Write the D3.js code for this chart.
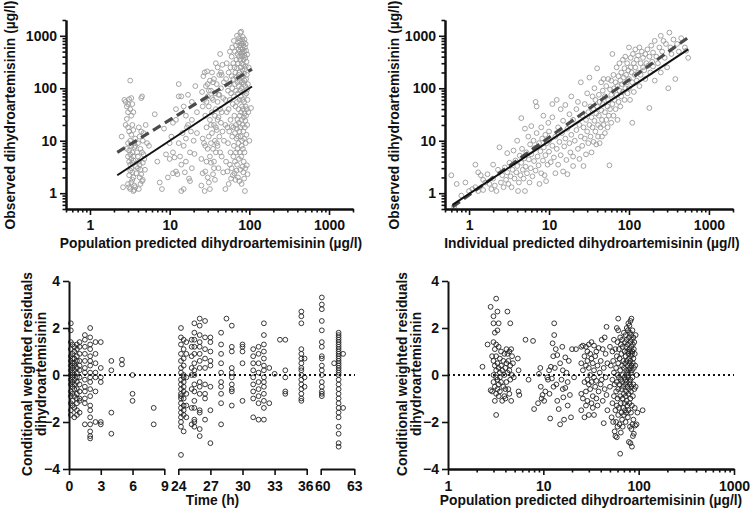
<!DOCTYPE html>
<html><head><meta charset="utf-8">
<script src="https://cdn.jsdelivr.net/npm/d3@7"></script>
<style>
body{margin:0;background:#fff}
svg text{font-family:"Liberation Sans",Arial,sans-serif;font-weight:bold;fill:#111}
</style>
</head><body><svg id="chart" width="750" height="511"></svg>
<script>
// ---------- DATA ----------
// Panel A: population predicted (PRED) vs observed (DV), µg/l
const predObs = [
[2.5,12],[2.6,1.3],[2.7,60],[2.8,55],[2.9,45],[3.0,50],[3.0,35],[3.1,62],[3.2,140],[3.2,40],[3.3,65],[3.3,30],[3.4,50],[3.5,35],[3.0,18],[3.1,15],[3.2,10],[3.3,8],[3.4,6],[3.5,5],[3.0,5],[3.1,4],[3.2,3.5],[3.3,3],[3.4,2.5],[3.5,2],[3.0,1.5],[3.1,1.3],[3.2,1.2],[3.3,1.6],[3.4,1.8],[3.5,1.1],[3.6,1.15],[3.7,1.3],[2.9,7],[3.0,9],[3.1,6.5],[3.2,5.5],[3.3,4.5],[3.4,3.8],[3.5,4.2],[3.6,7.5],[3.7,11],[3.8,3.2],[3.1,2.2],[3.2,2.7],[3.3,13],[3.4,20],[3.5,16],[3.6,9],[3.7,8],[3.9,6],[4.0,5],[4.1,4],[4.2,3.5],[4.3,2.8],[4.4,2.3],[4.5,1.7],[4.1,1.2],[4.3,1.5],[4.0,9],[4.2,12],[4.4,15],[4.6,10],[4.1,18],[4.3,7],[4.5,6],[4.6,3.8],[4.7,5.5],[4.8,4.5],[4.0,3],[4.2,2],[4.4,65],[4.5,70],[3.8,2.4],[4.9,2.8],[5.0,20],[5.2,9],[4.7,14],[3.6,1.4],[4.6,1.8],[2.8,20],[2.9,26],
[5.5,8],[6.5,32],[7,4],[7.5,1.6],[8,1.2],[8.5,17],[9,5.5],[9.5,2],[10,4.5],[10.5,12],[11,2.4],[11,6],[11.5,4.8],[12,25],[12,2.6],[12.5,2.3],[13,120],[13,70],[13,9],[13.5,5],[14,70],[14,3.5],[14.5,14],[15,45],[15,8],[15.5,2.5],[15,1.2],[16,30],[16,11],[16.5,18],[17,75],[17,20],[17.5,1.9],[18,1.7],[18,6],[18.5,15],[19,55],[19,25],[20,10],[20.5,5.6],[21,110],[22,14],[22,35],[14,1.1],[12,40],[10,9],[11,22],[16,4],[19,3],
[25,4.5],[25,1.4],[25.5,85],[26,11],[26,2.4],[26.5,170],[27,60],[27,9],[27.5,200],[27.5,1.1],[28,30],[28,2.6],[28.5,110],[29,18],[29,4],[29.5,210],[30,70],[30,7],[30,2],[31,45],[31,12],[31,1.6],[32,140],[32,25],[32,5],[33,90],[33,9],[33,3.8],[34,200],[34,35],[34,14],[35,60],[35,7],[35,2.3],[36,150],[36,20],[36,4],[37,80],[37,10],[37,1.8],[38,300],[38,40],[38,6],[39,120],[39,16],[40,250],[40,55],[40,8],[41,28],[41,3],[42,180],[42,75],[42,12],[43,6],[43,450],[44,100],[44,22],[45,35],[45,5],[46,280],[46,15],[47,65],[47,2.5],[48,130],[48,10],[26,45],[29,55],[31,90],[33,20],[35,130],[37,30],[39,9],[41,75],[43,40],[45,180],[30,120],[34,65],[28,8],[32,1.2],[36,3],[38,18],[40,25],[44,200],
[50,1.2],[50,20],[50,60],[51,150],[51,4],[52,300],[52,35],[53,18],[53,2.6],[54,90],[54,9],[55,200],[55,40],[55,1.5],[56,120],[56,15],[57,500],[57,60],[57,3.5],[58,250],[58,25],[58,6],[59,80],[59,1.9],[60,400],[60,170],[60,19],[60,3],
[61,600],[61,100],[61,12],[62,50],[62,2.2],[63,300],[63,150],[63,18],[63,5],[64,800],[64,70],[64,8],[65,250],[65,30],[65,2.4],[66,500],[66,120],[66,14],[66,4],[67,200],[67,45],[67,1.8],[68,650],[68,90],[68,20],[68,6],[69,350],[69,160],[69,11],[69,2.7],[70,1000],[70,240],[70,55],[70,17],[70,3.5],[71,450],[71,130],[71,25],[71,7],[72,750],[72,300],[72,80],[72,12],[72,2],[73,550],[73,180],[73,40],[73,9],[74,900],[74,400],[74,110],[74,22],[74,4.5],[75,650],[75,200],[75,60],[75,15],[75,1.7],
[76,800],[76,500],[76,140],[76,30],[76,6],[77,1150],[77,350],[77,90],[77,18],[77,2.8],[78,600],[78,250],[78,70],[78,12],[79,1200],[79,450],[79,160],[79,35],[79,5],[80,700],[80,300],[80,100],[80,25],[80,8],[80,1.5],[81,850],[81,400],[81,130],[81,45],[81,10],[82,550],[82,220],[82,60],[82,20],[82,3.2],[83,950],[83,480],[83,170],[83,40],[83,7],[84,650],[84,280],[84,85],[84,15],[84,2.5],[85,750],[85,350],[85,120],[85,28],[85,4],[86,500],[86,190],[86,55],[86,11],[86,1.9],[87,850],[87,420],[87,140],[87,33],[87,6],[88,600],[88,230],[88,75],[88,18],[88,1.1],[89,380],[89,110],[89,24],[89,3],[90,700],[90,260],[90,45],[90,9],[91,520],[91,150],[91,30],[92,320],[92,80],[92,13],[93,180],[93,40],[93,3.4],[94,440],[94,95],[94,20],[95,60],[95,2.3],[96,120],[97,35],[98,250],[100,10],[105,42]
];
// Panel B: individual predicted (IPRED) vs observed (DV), µg/l
const ipredObs = [
[0.6,2.2],[0.65,0.55],[0.7,1.5],[0.8,0.9],[0.9,1.6],[1.0,1.1],[1.1,1.2],[1.2,3.5],[1.2,1.3],[1.3,2.5],[1.3,1.1],[1.4,2.2],[1.5,1.8],[1.5,1.15],[1.6,1.6],[1.7,2.3],[1.8,1.5],[1.9,1.2],[2.0,3.5],[2.0,1.9],[2.1,1.4],[2.2,1.1],[2.3,2.8],[2.4,7.5],[2.5,1.6],[2.6,2.2],[2.7,1.3],[2.8,3.1],[2.9,1.8],[3.0,2.5],[3.0,5.8],[3.1,1.5],[3.2,3.8],[3.3,2.1],[3.4,1.3],[3.5,2.8],[3.6,6.5],[3.7,1.9],[3.8,4.2],[3.9,2.5],[4.0,10],[4.0,3.3],[4.1,1.1],[4.2,1.6],[4.3,5.2],[4.4,2.2],[4.5,27],[4.5,3.8],[4.6,7],[4.7,2.8],[4.8,1.9],[4.9,4.6],[5.0,1.1],[5.0,17],[5.1,3.2],[5.2,6],[5.3,2.4],[5.5,12],[5.6,4.4],[5.7,1.6],[5.8,8.5],[5.9,3],[6.0,19],[6.0,5.5],[6.2,2.1],[6.4,10],[6.5,4.1],[6.6,7.2],[6.8,55],[6.8,2.7],[7.0,45],[7.0,14],[7.2,5],[7.4,3.4],[7.5,9],[7.6,1.5],[7.8,6.3],[8.0,18],[8.0,2.4],[8.2,11],[8.4,4.2],[8.5,30],[8.6,7.5],[8.8,2.2],[9.0,13],[9.0,5.3],[9.2,1.7],[9.4,9],[9.6,3.5],[9.8,22],[10,6.2],[10,15],[10,10],[10.5,3.9],[11,8],[11,50],[11,28],[11.5,4.8],[12,12],[12,2.4],[12.5,60],[12.5,7],[13,18],[13,3.5],[13.5,9.5],[14,40],[14,5.3],[14.5,14],[15,2.6],[15,24],[15.5,7.8],[16,11],[16,48],[16.5,4.3],[17,17],[17,2.3],[18,9],[18,32],[18.5,6],[19,70],[19,13],[20,5],[20,25],[20,3.3],[21,10],[22,40],[22,16],[23,7],[23,55],[24,20],[24,4.5],[25,12],[25,130],[26,30],[26,8],[27,18],[27,3.3],[28,50],[28,11],[29,25],[29,5.5],[30,80],[30,15],[31,35],[31,9],[32,160],[32,20],[33,45],[33,12],[34,6],[34,28],[35,70],[35,18],[36,40],[36,9.5],[37,100],[37,24],[38,15],[38,60],[39,33],[39,8.5],[40,240],[40,45],[41,20],[41,12],[42,75],[42,30],[43,9],[43,55],[44,18],[45,130],[45,38],[46,25],[46,12],[47,90],[47,50],[48,20],[48,150],[50,35],[50,70],[50,14],[52,110],[52,25],[54,45],[54,18],[55,150],[55,60],[56,30],[57,3.4],[58,95],[58,40],[60,140],[60,22],[60,75],[62,450],[62,50],[64,30],[64,180],[65,100],[66,60],[68,130],[68,40],[70,250],[70,75],[72,25],[72,110],[74,170],[74,55],[76,90],[76,300],[78,140],[78,45],[80,200],[80,70],[82,120],[84,350],[84,85],[86,160],[88,240],[88,60],[90,100],[90,400],[92,180],[94,130],[95,300],[96,80],[98,220],[100,600],[100,150],[100,100],[103,60],[105,250],[105,380],[108,200],[110,130],[110,22],[112,450],[115,300],[115,85],[118,180],[120,250],[120,550],[125,140],[125,350],[130,200],[130,420],[135,600],[135,110],[140,300],[140,180],[145,500],[150,250],[150,380],[155,220],[160,450],[160,150],[165,300],[170,550],[175,270],[180,42],[180,400],[185,200],[190,650],[195,320],[200,480],[200,260],[210,800],[210,140],[220,400],[230,300],[240,600],[250,200],[250,1000],[260,500],[270,800],[280,380],[290,700],[300,250],[310,100],[320,1150],[330,600],[340,450],[360,850],[380,150],[400,700],[420,500],[450,900],[500,600],[550,380],[520,520]
];
// Panel C: time after dose (h) and CWRES values observed at each time
const sampleTimes = [0.17,0.33,0.5,0.75,1,1.5,2,2.5,3,4,5,6,8,24.25,24.5,24.75,25.25,25.5,26,26.5,27,28,28.5,29,30,31,31.5,32,32.5,33,33.5,34,35.5,35.8,60.1,61.2,61.6,62];
const cwresAtTime = [
[2.2,1.9,1.4,1.1,0.8,0.6,0.4,0.2,0,-0.2,-0.4,-0.7,-0.9,-1.2,-1.5,-1.7],
[1.3,0.9,0.7,0.5,0.3,0.1,-0.1,-0.3,-0.5,-0.8,-1.1,-1.3],
[1.2,1.0,0.7,0.5,0.4,0.2,0,-0.2,-0.4,-0.6,-0.9,-1.4,-1.8],
[1.3,1.1,0.8,0.6,0.3,0.1,-0.1,-0.3,-0.6,-0.8,-1.0,-1.2,-1.5,-1.7],
[1.4,1.2,0.9,0.6,0.4,0.2,-0.1,-0.4,-0.7,-1.0,-1.1,-1.6],
[1.7,1.5,1.2,0.9,0.6,0.3,0.1,-0.2,-0.5,-0.7,-1.0,-1.2,-2.1],
[2.0,1.6,1.3,1.1,0.8,0.6,0.4,0.1,-0.1,-0.3,-0.6,-0.9,-1.3,-1.5,-1.8,-2.1,-2.4,-2.6,-2.7],
[1.4,0.9,0.5,0.1,-0.1,-0.7,-2.0],
[1.4,0.3,-0.1,-0.3,-2.0,-2.1],
[0.6,0.2,-1.6,-2.5],
[0.65,0.45],
[0,-0.8,-1.1],
[-1.4,-2.1],
[2.0,1.6,1.3,0.9,0.6,0.3,0.1,-0.2,-0.4,-0.6,-0.8,-1.0,-1.2,-1.4,-1.6,-1.8,-2.0,-2.2,-3.4,-0.9],
[1.5,1.1,0.7,0.4,0,-0.3,-0.5,-0.7,-1.0,-1.3,-1.5,-1.7,-2.4,-0.1],
[1.4,0.9,-0.1,-0.8,-1.3,-1.8],
[1.5,1.2,0.8,0.3,0,-0.6,-1.4,-2.1],
[2.2,1.8,1.5,1.2,0.9,0.5,0.2,0,-0.4,-0.7,-1.1,-1.4,-1.9,-2.2,-2.0],
[2.4,2.1,1.7,1.4,1.2,0.9,0.6,0.3,-0.3,-0.5,-0.8,-1.5,-1.6,-2.6,-2.3],
[2.3,1.6,1.1,0.7,0.3,-0.4,-0.8,-1.0,-1.9],
[1.6,1.4,1.0,0.6,0.4,-0.5,-1.5,-2.9],
[1.8,1.3,0.9,0.5,0.1,-0.3,-0.5,-0.8,-1.2,-2.1],
[2.4],
[2.1,1.2,1.0,0.3,0.1,-0.1,-0.4,-0.6,-0.7,-1.3],
[1.3,1.2,1.0,0.5,-1.1],
[1.1,0.8,0.5,0.2,-0.1,-0.4,-0.7,-1.0,-1.8],
[1.2,0.9,0.5,0.1,-0.3,-0.6,-0.9,-1.2,-1.9],
[2.2,1.7,1.3,1.0,0.7,0.4,0.2,-0.1,-0.3,-0.5,-0.8,-1.1,-1.4,-1.9],
[0.3,-1.2],
[0.05],
[1.5],
[1.5,0.2,-0.1,-0.7,-0.8],
[2.7,2.5,2.2,1.1,0.9,0.7,0.5,0.3,0.2,0,-0.2,-0.4,-0.6,-0.8,-1.0,-1.1],
[0.7,-0.1,-0.5],
[3.3,3.0,2.8,2.3,1.9,1.4,1.2,0.8,0.7,0.4,0.2,0,-0.3,-0.5,-0.7,-0.8,-0.9],
[0.5],
[1.8,1.7,1.6,1.5,1.4,1.3,1.2,1.1,1.0,0.9,0.8,0.7,0.6,0.5,0.4,0.3,0.2,0.1,0,-0.2,-0.4,-0.6,-0.8,-1.0,-1.2,-1.4,-1.6,-1.8,-2.2,-2.5,-2.9,-3.05],
[0.9,-1.4]
];
// Panel D: population predicted (PRED) vs CWRES
const predCwres = [
[2.3,0.35],[2.6,1.3],[2.8,2.9],[2.8,-0.65],[2.9,0.8],[2.9,-0.7],[3.0,2.5],[3.0,2.2],[3.0,1.4],[3.0,0.6],[3.0,0.0],[3.0,-0.3],[3.1,1.8],[3.1,1.1],[3.1,0.4],[3.1,-0.5],[3.1,-1.1],[3.2,3.25],[3.2,1.3],[3.2,0.8],[3.2,0.2],[3.2,-0.1],[3.2,-0.8],[3.2,-1.7],[3.3,2.7],[3.3,1.9],[3.3,0.5],[3.3,-0.2],[3.3,-0.6],[3.4,2.2],[3.4,1.2],[3.4,0.3],[3.4,-0.4],[3.4,-0.9],[3.5,0.7],[3.5,0.1],[3.5,-0.7],[3.6,0.4],[3.6,-0.3],[3.7,0.2],[3.7,-1.1],[3.8,0.6],[3.8,-0.5],[3.9,0.0],[3.9,-0.9],[4.0,0.3],[4.0,-1.0],[4.1,1.1],[4.1,0.5],[4.1,-0.3],[4.2,2.7],[4.2,0.9],[4.2,0.1],[4.3,0.6],[4.3,-0.6],[4.4,1.0],[4.4,0.2],[4.4,-0.8],[4.5,2.2],[4.5,0.4],[4.5,-0.2],[4.6,1.1],[4.6,-1.1],[4.7,0.8],[4.7,0.0],[4.8,0.5],[4.9,-0.1],[5.4,0.7],[5.5,-0.7],[5.5,0.2],[5.6,-0.85],[3.6,1.0],[3.9,0.9],[4.0,-0.6],[3.5,-0.1],
[6.5,1.5],[7,-0.2],[7.8,1.45],[8,-1.45],[8.8,-1.2],[9,0.05],[9.3,0.3],[9.4,-0.5],[9.6,-1.0],[9.8,-0.85],[10.2,-1.1],[10.5,-0.7],[11,-0.1],[11.2,-0.2],[11.5,0.2],[11.6,-0.8],[11.8,-1.85],[12,0.35],[12.3,-0.15],[12.5,1.35],[12.7,0.8],[12.8,-0.5],[13,2.2],[13,1.7],[13.2,0.3],[13.5,1.1],[13.7,-0.4],[14,0.85],[14,-1.1],[14.5,-1.45],[15,0.5],[15,-2.1],[15.5,-0.2],[15.8,1.2],[16,-0.6],[16.2,-0.95],[16.5,-1.9],[17,0.75],[17.5,0.1],[18,-0.3],[18,-1.3],[18.5,0.6],[19,-0.85],[19.5,-1.8],[20,1.1],[21,-0.1],[22,1.1],[17,-0.55],[16,0.2],
[25,1.2],[25,0.5],[25,-0.8],[25,-1.5],[26,1.25],[26,0.2],[26,-1.0],[27,0.8],[27,-0.3],[27,-1.8],[28,1.2],[28,0.4],[28,-0.7],[28,-1.3],[29,1.0],[29,0.6],[29,-0.2],[29,-1.1],[30,1.3],[30,0.3],[30,-0.4],[30,-1.7],[31,0.9],[31,0.0],[31,-0.6],[32,1.4],[32,0.7],[32,-0.3],[32,-1.2],[33,0.5],[33,-0.9],[33,-1.4],[34,1.25],[34,0.2],[34,-0.1],[34,-1.7],[35,0.8],[35,-0.5],[36,1.0],[36,-0.25],[36,-1.0],[37,0.4],[37,-1.3],[38,1.15],[38,-0.7],[39,0.1],[40,0.6],[40,-0.4],[41,1.5],[41,-0.2],[42,1.1],[42,-1.1],[43,0.3],[43,-2.05],[44,1.6],[44,-0.6],[45,0.9],[45,-0.1],[46,2.05],[46,-0.85],[47,0.5],[47,-1.5],
[50,1.2],[50,-0.5],[51,0.4],[52,-1.8],[53,1.0],[53,-0.2],[53,-1.2],[54,0.6],[54,-2.0],[55,1.5],[55,0.1],[55,-0.9],[56,-0.4],[56,-2.4],[57,1.1],[57,-1.5],[57,-2.6],[58,0.3],[58,-0.7],[58,-2.0],[59,2.0],[59,0.8],[59,-0.3],[59,-1.3],[59,-2.65],[60,1.4],[60,0.0],[60,-1.0],[60,-2.2],[61,2.4],[61,1.9],[61,0.5],[61,-0.6],[61,-1.7],[62,1.1],[62,-0.1],[62,-1.4],[63,0.7],[63,-0.4],[63,-2.1],[64,1.6],[64,0.2],[64,-0.9],[64,-3.35],[65,1.3],[65,-0.2],[65,-1.2],[65,-2.45],[66,0.9],[66,-0.6],[66,-1.6],[67,1.5],[67,0.4],[67,-0.3],[67,-1.9],[68,1.2],[68,0.0],[68,-1.0],[68,-2.2],[69,0.6],[69,-0.5],[69,-1.4],[70,1.8],[70,0.3],[70,-0.8],[70,-1.7],[71,1.0],[71,-0.1],[71,-1.2],[72,1.4],[72,0.5],[72,-0.4],[72,-1.5],[73,1.7],[73,0.8],[73,-0.2],[73,-0.9],[73,-2.0],[74,1.2],[74,0.2],[74,-0.7],[74,-1.6],[75,2.0],[75,1.5],[75,0.6],[75,-0.3],[75,-1.1],[76,1.0],[76,0.1],[76,-0.5],[76,-1.3],[77,1.9],[77,1.3],[77,0.4],[77,-0.1],[77,-1.8],[78,2.2],[78,0.9],[78,0.0],[78,-0.8],[78,-1.5],[79,1.6],[79,0.7],[79,0.2],[79,-0.6],[79,-2.85],[80,2.1],[80,1.1],[80,0.5],[80,-0.3],[80,-1.2],[81,1.8],[81,1.0],[81,0.3],[81,-0.4],[81,-2.2],[82,2.3],[82,1.4],[82,0.6],[82,-0.2],[82,-1.0],[82,-2.9],[83,1.7],[83,0.8],[83,0.1],[83,-0.7],[83,-1.6],[84,2.4],[84,1.2],[84,0.4],[84,-0.5],[84,-2.3],[85,1.5],[85,0.9],[85,0.2],[85,-1.3],[85,-3.05],[86,1.9],[86,1.0],[86,-0.1],[86,-2.1],[87,1.3],[87,0.5],[87,-0.9],[87,-2.6],[88,1.6],[88,0.7],[88,-0.4],[88,-1.9],[89,1.1],[89,0.3],[89,-2.5],[90,1.4],[90,-0.6],[91,0.9],[91,-1.4],[92,0.4],[92,-2.15],[93,1.7],[93,-0.5],[95,0.0],[95,-2.1],[110,-1.5],[97,-1.6]
];
// Reference lines: identity (solid) and regression (dashed), [x, y] endpoints
const identityA = [[2.2,2.2],[108,108]];
const regressionA = [[2.2,6.0],[108,232]];
const identityB = [[0.62,0.6],[550,550]];
const regressionB = [[0.62,0.55],[550,930]];
// Axis ticks / labels
const logMajor = [1,10,100,1000];
const logMinorWide = [0.5,0.6,0.7,0.8,0.9,2,3,4,5,6,7,8,9,20,30,40,50,60,70,80,90,200,300,400,500,600,700,800,900,2000];
const logMinorNarrow = [2,3,4,5,6,7,8,9,20,30,40,50,60,70,80,90,200,300,400,500,600,700,800,900];
const cwresTicks = [-4,-2,0,2,4];
const timeSegments = [[0,9],[24,36],[60,63]];
const timeTicks = [[0,3,6,9],[24,27,30,33,36],[60,63]];
const yTitleObs = "Observed dihydroartemisinin (µg/l)";
const xTitleA = "Population predicted dihydroartemisinin (µg/l)";
const xTitleB = "Individual predicted dihydroartemisinin (µg/l)";
const xTitleC = "Time (h)";
const yTitleRes = ["Conditional weighted residuals","dihydroartemisinin"];

// ---------- DRAW ----------
const svg = d3.select("#chart");
svg.append("rect").attr("width",750).attr("height",511).attr("fill","#fff");
const TICK_FS = 14, TITLE_FS = 13.8;

function styleAxis(g){
  g.selectAll("path.domain").attr("stroke","#111").attr("stroke-width",2);
  g.selectAll(".tick line").attr("stroke","#111").attr("stroke-width",1.6);
  g.selectAll(".tick text").attr("font-size",TICK_FS).attr("fill","#111")
    .style("font-family","'Liberation Sans',Arial,sans-serif").style("font-weight","bold");
}
function topPanel(data, xr, ident, reg, xTitle, yTitleX, xTitleX){
  const x = d3.scaleLog().domain([0.5,2000]).range(xr);
  const y = d3.scaleLog().domain([0.5,2000]).range([209,20]);
  const g = svg.append("g");
  g.selectAll("circle").data(data).join("circle")
    .attr("cx",d=>x(d[0])).attr("cy",d=>y(d[1])).attr("r",2.4)
    .attr("fill","none").attr("stroke","#9a9a9a").attr("stroke-width",0.9);
  const line = d3.line().x(d=>x(d[0])).y(d=>y(d[1]));
  svg.append("path").attr("d",line(reg)).attr("stroke","#4a4a4a").attr("stroke-width",3.2)
    .attr("stroke-dasharray","9,5").attr("fill","none");
  svg.append("path").attr("d",line(ident)).attr("stroke","#111").attr("stroke-width",2).attr("fill","none");
  // y axis
  svg.append("g").attr("transform",`translate(${xr[0]},0)`)
    .call(d3.axisLeft(y).tickValues(logMinorWide).tickFormat("").tickSize(3.5).tickSizeOuter(0)).call(styleAxis);
  svg.append("g").attr("transform",`translate(${xr[0]},0)`)
    .call(d3.axisLeft(y).tickValues(logMajor).tickFormat(d3.format("d")).tickSize(6).tickPadding(3).tickSizeOuter(0)).call(styleAxis);
  // x axis
  svg.append("g").attr("transform",`translate(0,209)`)
    .call(d3.axisBottom(x).tickValues(logMinorWide).tickFormat("").tickSize(3.5).tickSizeOuter(0)).call(styleAxis);
  svg.append("g").attr("transform",`translate(0,209)`)
    .call(d3.axisBottom(x).tickValues(logMajor).tickFormat(d3.format("d")).tickSize(6).tickPadding(5).tickSizeOuter(0)).call(styleAxis);
  svg.append("text").attr("x",xTitleX).attr("y",248).attr("text-anchor","middle").attr("font-size",TITLE_FS).text(xTitle);
  svg.append("text").attr("transform",`translate(${yTitleX},115) rotate(-90)`).attr("text-anchor","middle")
    .attr("dominant-baseline","central").attr("font-size",TITLE_FS).text(yTitleObs);
}
topPanel(predObs,[66,353],identityA,regressionA,xTitleA,10,211);
topPanel(ipredObs,[445,733],identityB,regressionB,xTitleB,394,592);

// residual panels
const yRes = d3.scaleLinear().domain([-4,4]).range([469,281]);
function resYAxis(x0, tx1, tx2){
  svg.append("g").attr("transform",`translate(${x0},0)`)
    .call(d3.axisLeft(yRes).tickValues(cwresTicks).tickFormat(d3.format("d")).tickSize(6).tickPadding(3).tickSizeOuter(0)).call(styleAxis);
  svg.append("text").attr("transform",`translate(${tx1},374) rotate(-90)`).attr("text-anchor","middle")
    .attr("dominant-baseline","central").attr("font-size",TITLE_FS).text(yTitleRes[0]);
  svg.append("text").attr("transform",`translate(${tx2},374) rotate(-90)`).attr("text-anchor","middle")
    .attr("dominant-baseline","central").attr("font-size",TITLE_FS).text(yTitleRes[1]);
}
function zeroLine(x0,x1){
  svg.append("line").attr("x1",x0).attr("x2",x1).attr("y1",yRes(0)).attr("y2",yRes(0))
    .attr("stroke","#111").attr("stroke-width",2).attr("stroke-dasharray","2,3");
}

// Panel C
const segRanges = [[69,164.3],[178.3,306.7],[320.7,354.3]];
const segScales = timeSegments.map((d,i)=>d3.scaleLinear().domain(d).range(segRanges[i]));
function xTime(t){ const i = timeSegments.findIndex(s=>t>=s[0]-0.5&&t<=s[1]+0.5); return segScales[i](t); }
const cwresTime = sampleTimes.flatMap((t,i)=>cwresAtTime[i].map(v=>[t,v]));
zeroLine(69,355);
svg.append("g").selectAll("circle").data(cwresTime).join("circle")
  .attr("cx",d=>xTime(d[0])).attr("cy",d=>yRes(d[1])).attr("r",2.4)
  .attr("fill","none").attr("stroke","#222").attr("stroke-width",0.9);
segScales.forEach((s,i)=>{
  const ax = svg.append("g").attr("transform","translate(0,469)")
    .call(d3.axisBottom(s).tickValues(timeTicks[i]).tickFormat(d3.format("d")).tickSize(6).tickPadding(6).tickSizeOuter(0)).call(styleAxis);
  // the labels 36 and 60 nearly touch at the axis break: nudge them apart slightly
  ax.selectAll(".tick text").attr("dx",d=>d===36?-1.5:(d===60?1.5:0));
});
resYAxis(69,27,41);
svg.append("text").attr("x",212.5).attr("y",505).attr("text-anchor","middle").attr("font-size",TITLE_FS).text(xTitleC);

// Panel D
const xD = d3.scaleLog().domain([1,1000]).range([448,734]);
zeroLine(448,734);
svg.append("g").selectAll("circle").data(predCwres).join("circle")
  .attr("cx",d=>xD(d[0])).attr("cy",d=>yRes(d[1])).attr("r",2.4)
  .attr("fill","none").attr("stroke","#222").attr("stroke-width",0.9);
svg.append("g").attr("transform","translate(0,469)")
  .call(d3.axisBottom(xD).tickValues(logMinorNarrow).tickFormat("").tickSize(3.5).tickSizeOuter(0)).call(styleAxis);
svg.append("g").attr("transform","translate(0,469)")
  .call(d3.axisBottom(xD).tickValues(logMajor).tickFormat(d3.format("d")).tickSize(6).tickPadding(6).tickSizeOuter(0)).call(styleAxis);
resYAxis(448,402,416);
svg.append("text").attr("x",591).attr("y",505).attr("text-anchor","middle").attr("font-size",TITLE_FS).text(xTitleA);
</script>
</body></html>
